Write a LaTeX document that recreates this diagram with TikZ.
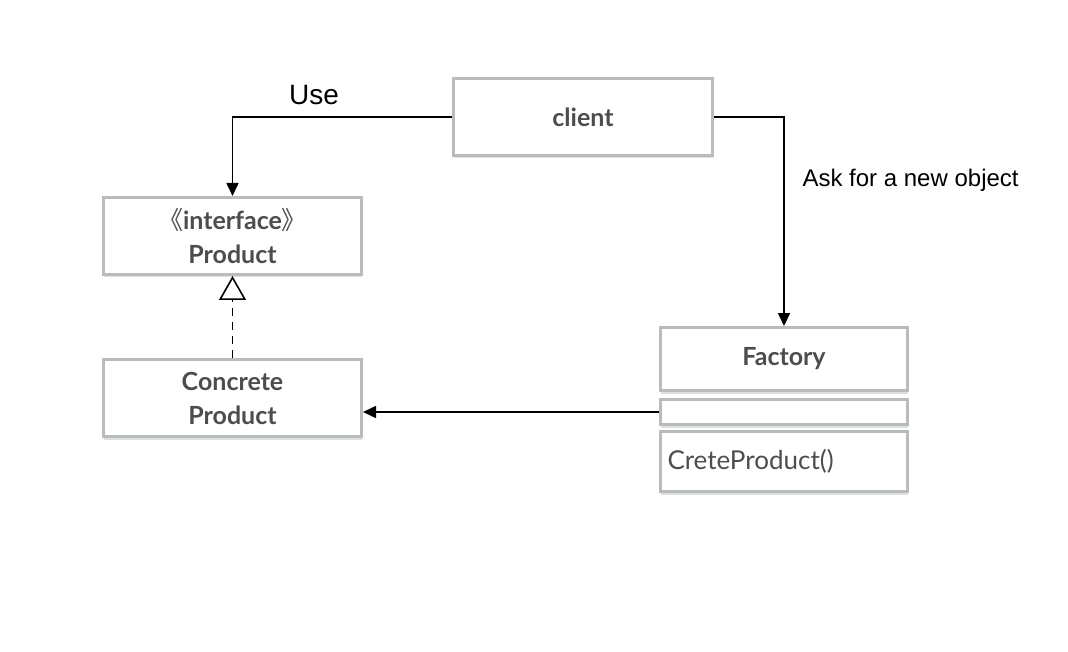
\documentclass[tikz,border=0pt]{standalone}
\usepackage{fontspec}
\setmainfont{Lato}
\newfontfamily\labelfont{Liberation Sans}
\newfontfamily\cjkfont{Noto Sans CJK SC}
\usetikzlibrary{arrows.meta,shadows}
\definecolor{boxgray}{RGB}{184,188,188}
\definecolor{shadegray}{RGB}{222,224,224}
\definecolor{textgray}{RGB}{77,77,77}

\begin{document}
\begin{tikzpicture}[x=1pt,y=-1pt,
    umlbox/.style={draw=boxgray,line width=3pt,fill=white,text=textgray,
      font=\fontsize{25}{34}\selectfont\bfseries,align=center,inner sep=0pt,
      drop shadow={shadow xshift=0pt,shadow yshift=-3pt,fill=shadegray,opacity=1}},
    conn/.style={line width=1.6pt,-{Triangle[length=13pt,width=12pt]}},
    realize/.style={line width=1.6pt,dash pattern=on 8pt off 6pt,
      -{Triangle[open,length=24pt,width=27pt,line width=1.6pt]}},
    edgelabel/.style={font=\labelfont\fontsize{24}{28}\selectfont,text=black}]
  \useasboundingbox (0,0) rectangle (1068,652);
  \node[umlbox,minimum width=259pt,minimum height=77pt] (client) at (583,117) {client};
  \node[umlbox,minimum width=258pt,minimum height=77pt] (product) at (232.5,236)
    {{\cjkfont\mdseries 《}interface{\cjkfont\mdseries 》}\\Product};
  \node[umlbox,minimum width=258pt,minimum height=77pt] (concrete) at (232.5,398)
    {Concrete\\Product};
  \node[umlbox,minimum width=247pt,minimum height=63pt] (factory) at (784,359) {Factory};
  \node[umlbox,minimum width=247pt,minimum height=25pt] (attrs) at (784,412) {};
  \node[umlbox,minimum width=247pt,minimum height=60pt,text width=233pt,align=left,
    font=\fontsize{26}{30}\selectfont] (ops) at (784,461.5) {CreteProduct()};
  \draw[conn] (client.west) -| (product.north);
  \node[edgelabel,font=\labelfont\fontsize{28}{32}\selectfont] (uselbl) at (314,95) {Use};
  \draw[conn] (client.east) -| (factory.north);
  \node[edgelabel,anchor=west] (asklbl) at (799,180) {Ask for a new object};
  \draw[conn] (attrs.west) -- (concrete.east |- attrs.west);
  \draw[realize] (concrete.north) -- (product.south);
\end{tikzpicture}
\end{document}
